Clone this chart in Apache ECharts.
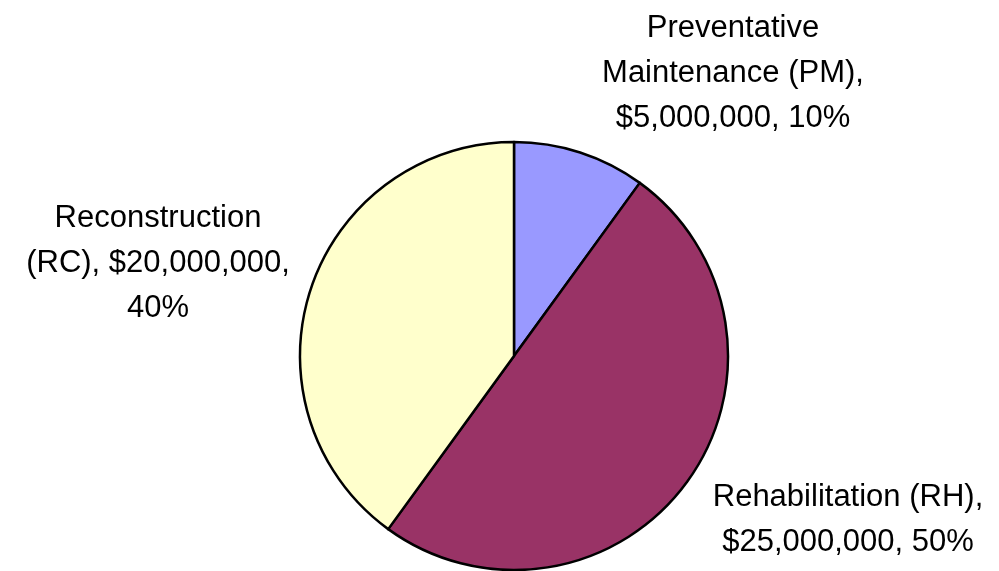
<!DOCTYPE html>
<html>
<head>
<meta charset="utf-8">
<script src="https://cdn.jsdelivr.net/npm/echarts@6/dist/echarts.min.js"></script>
<style>html,body{margin:0;padding:0;background:#fff;}#c{width:999px;height:571px;}</style>
</head>
<body>
<div id="c"></div>
<script>
const categories = ['Preventative Maintenance (PM)', 'Rehabilitation (RH)', 'Reconstruction (RC)'];
const values = [5000000, 25000000, 20000000];
const colors = ['#9999FF', '#993366', '#FFFFCC'];
const labelSpots = [[733, 73], [848, 520], [158, 263]];

function money(v) { return '$' + v.toLocaleString('en-US'); }
function labelText(i, pct) {
  const p = Math.round(pct) + '%';
  if (i === 0) return 'Preventative\nMaintenance (PM),\n' + money(values[i]) + ', ' + p;
  if (i === 1) return 'Rehabilitation (RH),\n' + money(values[i]) + ', ' + p;
  return 'Reconstruction\n(RC), ' + money(values[i]) + ',\n' + p;
}

const chart = echarts.init(document.getElementById('c'));
chart.setOption({
  animation: false,
  backgroundColor: '#ffffff',
  series: [{
    type: 'pie',
    center: [514, 356],
    radius: 214,
    startAngle: 90,
    clockwise: true,
    avoidLabelOverlap: false,
    data: categories.map((n, i) => ({ name: n, value: values[i], itemStyle: { color: colors[i] } })),
    itemStyle: { borderColor: '#000', borderWidth: 2.5 },
    emphasis: { disabled: true },
    label: {
      show: true,
      position: 'outside',
      formatter: p => labelText(p.dataIndex, p.percent),
      fontFamily: 'Liberation Sans, Arial, sans-serif',
      fontSize: 31,
      lineHeight: 45,
      color: '#000',
      align: 'center'
    },
    labelLine: { show: false },
    labelLayout: function (params) {
      const s = labelSpots[params.dataIndex];
      return { x: s[0], y: s[1], align: 'center', verticalAlign: 'middle' };
    }
  }]
});
</script>
</body>
</html>
